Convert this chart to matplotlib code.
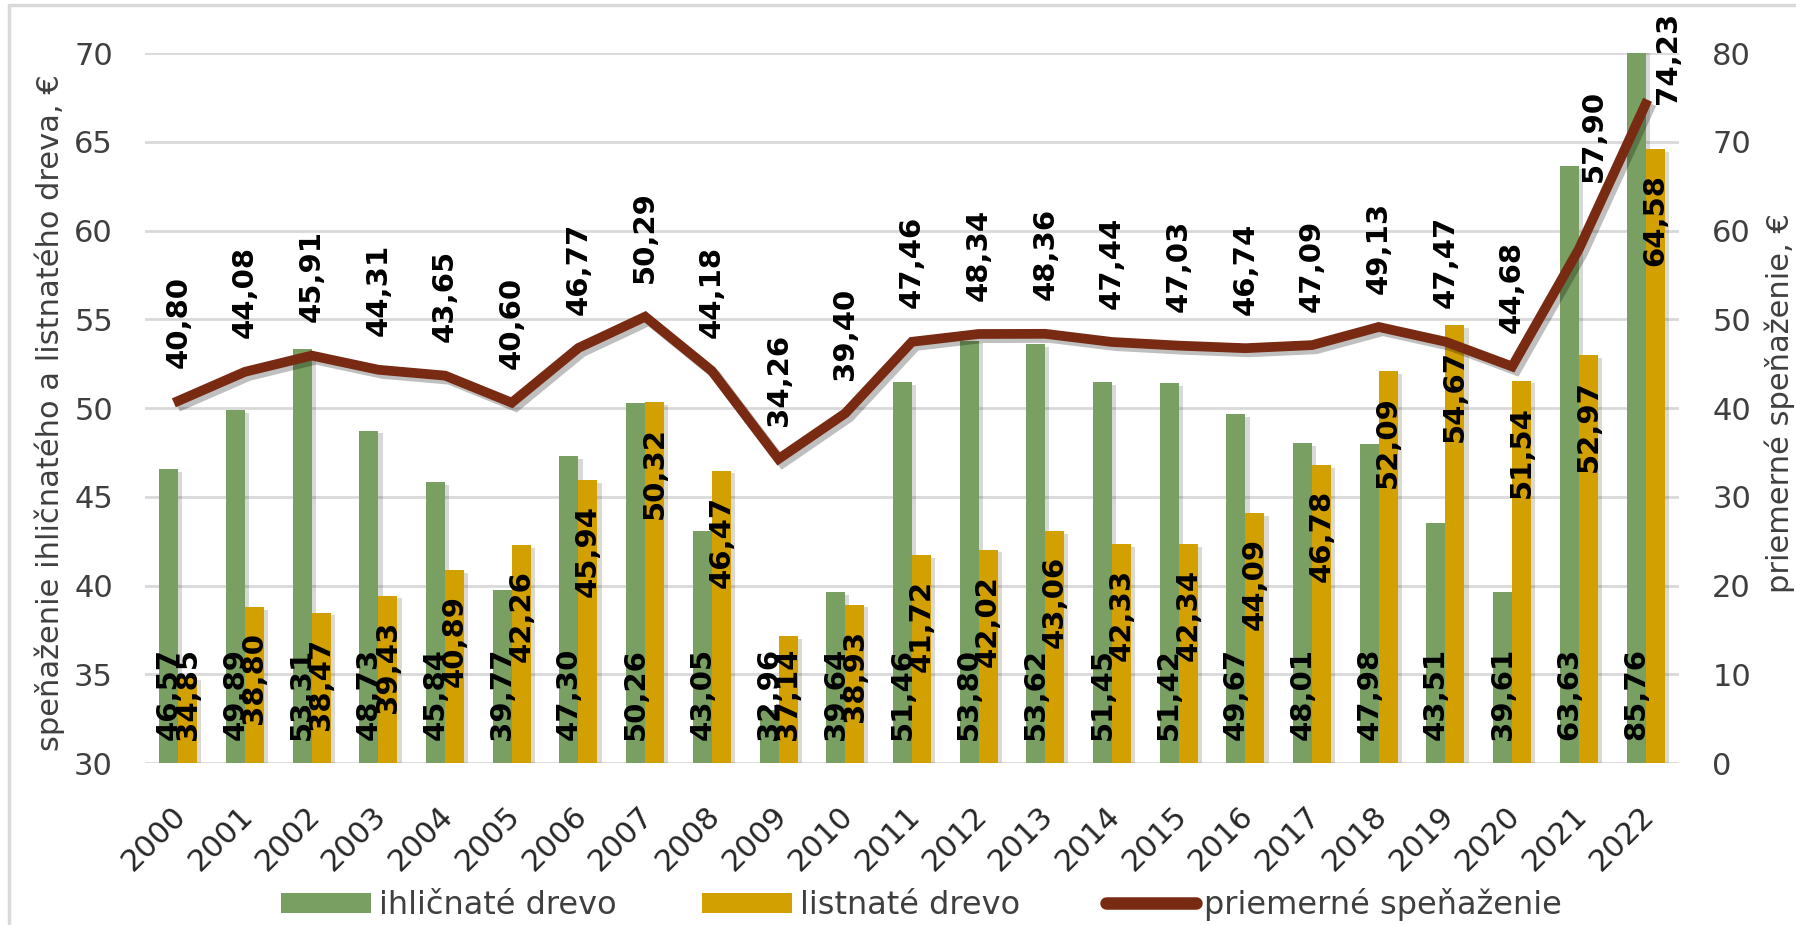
import matplotlib
matplotlib.use("Agg")
import matplotlib.pyplot as plt
import matplotlib.patheffects as pe
import matplotlib.transforms as mtransforms
from matplotlib.patches import Rectangle, Patch
from matplotlib.lines import Line2D
import numpy as np

years = [str(y) for y in range(2000, 2023)]
ihlicnate = [46.57, 49.89, 53.31, 48.73, 45.84, 39.77, 47.30, 50.26, 43.05, 32.96,
             39.64, 51.46, 53.80, 53.62, 51.45, 51.42, 49.67, 48.01, 47.98, 43.51,
             39.61, 63.63, 85.76]
listnate = [34.85, 38.80, 38.47, 39.43, 40.89, 42.26, 45.94, 50.32, 46.47, 37.14,
            38.93, 41.72, 42.02, 43.06, 42.33, 42.34, 44.09, 46.78, 52.09, 54.67,
            51.54, 52.97, 64.58]
priemer = [40.80, 44.08, 45.91, 44.31, 43.65, 40.60, 46.77, 50.29, 44.18, 34.26,
           39.40, 47.46, 48.34, 48.36, 47.44, 47.03, 46.74, 47.09, 49.13, 47.47,
           44.68, 57.90, 74.23]

GREEN = '#79a062'
GOLD = '#d2a000'
BROWN = '#782a12'
GRID = '#d9d9d9'
TXT = '#3f3f3f'

plt.rcParams['font.family'] = ['DejaVu Sans']

def fmt(v):
    return f'{v:.2f}'.replace('.', ',')

fig = plt.figure(figsize=(17.96, 9.25), dpi=100)
ax = fig.add_axes([0.0807, 0.1751, 0.8541, 0.7676])
ax2 = ax.twinx()

# outer frame of the chart
fig.patches.append(Rectangle((0.005, -0.1), 1.2, 1.0945, transform=fig.transFigure,
                             fill=False, edgecolor='#d9d9d9', linewidth=2.5))

x = np.arange(len(years))
w = 0.285
shadow = [pe.SimplePatchShadow(offset=(3, -2), alpha=0.18), pe.Normal()]
b1 = ax.bar(x - w / 2, ihlicnate, w, color=GREEN, zorder=3)
b2 = ax.bar(x + w / 2, listnate, w, color=GOLD, zorder=3)
for b in list(b1) + list(b2):
    b.set_path_effects(shadow)

ax.set_ylim(30, 70)
ax.set_xlim(-0.5, len(years) - 0.5)
ax.set_yticks(np.arange(30, 71, 5))
ax.yaxis.grid(True, color=GRID, linewidth=2)
ax.set_axisbelow(True)
for s in list(ax.spines.values()) + list(ax2.spines.values()):
    s.set_visible(False)

ax.set_xticks(x)
ax.tick_params(axis='x', length=0, pad=27)
ax.tick_params(axis='y', length=0, pad=23, labelsize=22, labelcolor=TXT)
ax.set_xticklabels(years, rotation=45, ha='right', va='top', fontsize=22, color='#262626')
shift = mtransforms.ScaledTranslation(10 / 72, 0, fig.dpi_scale_trans)
for lab in ax.get_xticklabels():
    lab.set_transform(lab.get_transform() + shift)
ax.set_ylabel('speňaženie ihličnatého a listnatého dreva, €', fontsize=22, color=TXT)
ax.yaxis.set_label_coords(-0.052, 0.494)

# bar labels: conifer at base, broadleaf at inner end (moved to base if it does not fit)
for xi, v in zip(x, ihlicnate):
    ax.annotate(fmt(v), (xi - w / 2, 30), xytext=(0, 16.5), textcoords='offset points',
                rotation=90, ha='center', va='bottom', fontsize=21,
                fontweight='bold', color='black', zorder=5)
gold_txt = []
for xi, v in zip(x, listnate):
    t = ax.annotate(fmt(v), (xi + w / 2, v), xytext=(0, -18), textcoords='offset points',
                    rotation=90, ha='center', va='top', fontsize=21,
                    fontweight='bold', color='black', zorder=5)
    gold_txt.append((t, xi + w / 2))

ax2.plot(x, priemer, color=BROWN, linewidth=7, solid_joinstyle='miter', zorder=4,
         path_effects=[pe.SimpleLineShadow(offset=(3, -3), alpha=0.25), pe.Normal()])
ax2.set_ylim(0, 80)
ax2.set_yticks(np.arange(0, 81, 10))
ax2.tick_params(axis='y', length=0, pad=24, labelsize=22, labelcolor=TXT)
ax2.set_ylabel('priemerné speňaženie, €', fontsize=22, color=TXT)
ax2.yaxis.set_label_coords(1.056, 0.507)

special = {21: (11, 48), 22: (16, 0)}
for i, (xi, v) in enumerate(zip(x, priemer)):
    off = special.get(i, (0, 24))
    ax2.annotate(fmt(v), (xi, v), xytext=off, textcoords='offset points',
                 rotation=90, ha='center', va='bottom', fontsize=21,
                 fontweight='bold', color='black', annotation_clip=False)

handles = [Patch(facecolor=GREEN, label='ihličnaté drevo'),
           Patch(facecolor=GOLD, label='listnaté drevo'),
           Line2D([0], [0], color=BROWN, linewidth=9, solid_capstyle='round',
                  label='priemerné speňaženie')]
fig.legend(handles=handles, loc='center', bbox_to_anchor=(0.513, 0.022), ncol=3,
           frameon=False, fontsize=23, handlelength=2.8, handleheight=0.6,
           handletextpad=0.25, columnspacing=2.7, labelcolor=TXT)

# broadleaf labels that do not fit inside the bar end sit at the base instead
fig.canvas.draw()
r = fig.canvas.get_renderer()
base_px = ax.transData.transform((0, 30))[1]
for t, xb in gold_txt:
    if t.get_window_extent(r).y0 < base_px + 23:
        t.xy = (xb, 30)
        t.set_position((0, 16.5))
        t.set_va('bottom')

fig.savefig('out.png', dpi=100, facecolor='white')
